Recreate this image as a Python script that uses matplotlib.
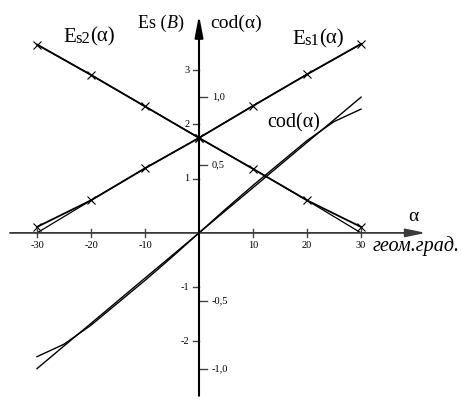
import matplotlib
matplotlib.use("Agg")
import matplotlib.pyplot as plt
import numpy as np

plt.rcParams["font.family"] = ["Liberation Serif", "DejaVu Serif"]

# measured points (geom. degrees) and Es values, volts
ALPHA_PTS = [-30, -20, -10, 0, 10, 20, 30]
ES1_MEAS = [0.11, 0.60, 1.19, 1.75, 2.34, 2.92, 3.48]
ES2_MEAS = [3.47, 2.91, 2.33, 1.75, 1.18, 0.60, 0.11]
ES1_CALC = [0.00, 0.60, 1.19, 1.75, 2.34, 2.92, 3.48]
ES2_CALC = [3.47, 2.91, 2.33, 1.75, 1.18, 0.60, 0.00]

# cod(alpha) curves, in cod units
COD_ALPHA = [-30, -25, -20, -15, -10, -5, 0, 5, 10, 15, 20, 25, 30]
COD_LIN = [-1.0, -0.833, -0.667, -0.5, -0.333, -0.167, 0.0,
           0.167, 0.333, 0.5, 0.667, 0.833, 1.0]
COD_CURV = [-0.912, -0.82, -0.68, -0.515, -0.35, -0.178, 0.0,
            0.178, 0.35, 0.515, 0.68, 0.82, 0.912]
COD_SCALE = 2.5  # 1.0 cod == 2.5 on the Es scale

X_TICKS = [-30, -20, -10, 10, 20, 30]
ES_TICKS = [3, 2, 1, -1, -2]
COD_TICKS = [1.0, 0.5, -0.5, -1.0]
COD_TICK_LABELS = ["1,0", "0,5", "-0,5", "-1,0"]

fig = plt.figure(figsize=(4.62, 4.05), dpi=100)
ax = fig.add_axes([0, 0, 1, 1])
ax.set_xlim(-36.85, 48.70)
ax.set_ylim(-3.17, 4.29)
ax.axis("off")

# axes with arrows
ax.annotate("", xy=(42.0, 0), xytext=(-35.0, 0),
            arrowprops=dict(arrowstyle="-|>,head_length=1.2,head_width=0.25",
                            mutation_scale=10, lw=1.3, color="#3a3a3a",
                            shrinkA=0, shrinkB=0))
ax.annotate("", xy=(0, 4.01), xytext=(0, -3.0),
            arrowprops=dict(arrowstyle="-|>,head_length=1.3,head_width=0.25",
                            mutation_scale=10, lw=1.5, color="black",
                            shrinkA=0, shrinkB=0))

tick_col = "#444444"
for xt in X_TICKS:
    ax.plot([xt, xt], [-0.07, 0.07], color=tick_col, lw=1.0)
    ax.text(xt, -0.15, str(xt), ha="center", va="top", fontsize=7.5)
for yt in ES_TICKS:
    ax.plot([-1.2, 0], [yt, yt], color=tick_col, lw=1.0)
    ax.text(-1.8, yt, str(yt), ha="right", va="center", fontsize=7.5)
for ct, cl in zip(COD_TICKS, COD_TICK_LABELS):
    ax.plot([0, 1.4], [ct * COD_SCALE] * 2, color=tick_col, lw=1.0)
    ax.text(2.4, ct * COD_SCALE, cl, ha="left", va="center", fontsize=7.5)

# Es curves
ax.plot(ALPHA_PTS, ES1_CALC, color="black", lw=0.9)
ax.plot(ALPHA_PTS, ES2_CALC, color="black", lw=0.9)
ax.plot(ALPHA_PTS, ES1_MEAS, color="black", lw=1.3, marker="x", ms=6, mew=0.8)
ax.plot(ALPHA_PTS, ES2_MEAS, color="black", lw=1.3, marker="x", ms=6, mew=0.8)

# cod curves
ax.plot(COD_ALPHA, np.array(COD_LIN) * COD_SCALE, color="black", lw=1.0)
ax.plot(COD_ALPHA, np.array(COD_CURV) * COD_SCALE, color="black", lw=1.0)


def label(x, y, parts):
    prev = None
    for txt, sz, style in parts:
        if prev is None:
            prev = ax.text(x, y, txt, fontsize=sz, style=style,
                           ha="left", va="baseline")
        else:
            prev = ax.annotate(txt, xy=(1, 0), xycoords=prev,
                               fontsize=sz, style=style,
                               ha="left", va="bottom")


label(-25.2, 3.52, [("E", 15, "normal"), ("s2", 12, "normal"), ("(α)", 15, "normal")])
label(17.2, 3.48, [("E", 15, "normal"), ("s1", 12, "normal"), ("(α)", 15, "normal")])
label(-11.3, 3.77, [("Es (", 13, "normal"), ("B", 13, "italic"), (")", 13, "normal")])
ax.text(2.0, 3.77, "cod(α)", fontsize=14, ha="left", va="baseline")
ax.text(12.6, 1.95, "cod(α)", fontsize=14.5, ha="left", va="baseline")
ax.text(38.7, 0.22, "α", fontsize=14, ha="left", va="baseline")
ax.text(32.2, -0.33, "геом.град.", fontsize=14.5, style="italic",
        ha="left", va="baseline")

fig.savefig("out.png", dpi=100, facecolor="white")
